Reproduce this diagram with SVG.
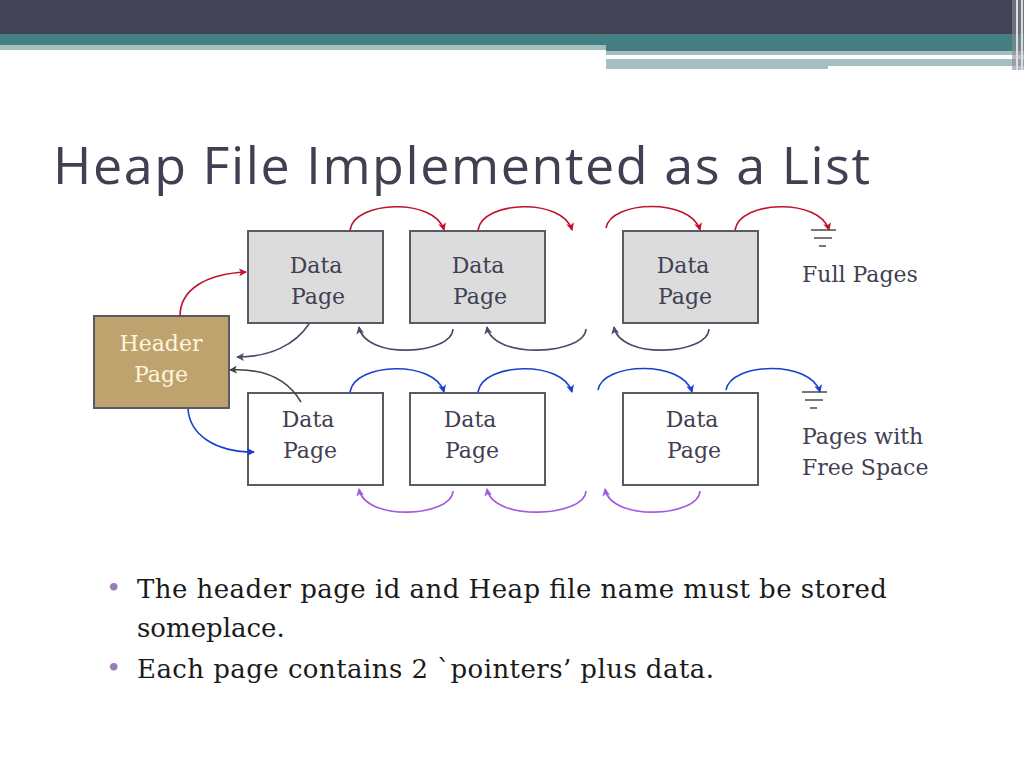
<svg xmlns="http://www.w3.org/2000/svg" width="1024" height="768" viewBox="0 0 1024 768">
<defs>
<style>
.box{stroke:#5a5a66;stroke-width:2}
.t{font-family:"DejaVu Serif","Liberation Serif",serif;font-size:22px;fill:#3f4152}
.c{fill:none;stroke-width:1.6}
.red{stroke:#c0122e}.dk{stroke:#4b4b6b}.bl{stroke:#1a3fd0}.pu{stroke:#a35be0}.gr{stroke:#444}
</style>
<marker id="mr" markerWidth="8" markerHeight="8" refX="7" refY="4" orient="auto" markerUnits="userSpaceOnUse"><path d="M0,0 L8,4 L0,8 L2,4z" fill="#c0122e"/></marker>
<marker id="md" markerWidth="8" markerHeight="8" refX="7" refY="4" orient="auto" markerUnits="userSpaceOnUse"><path d="M0,0 L8,4 L0,8 L2,4z" fill="#4b4b6b"/></marker>
<marker id="mb" markerWidth="8" markerHeight="8" refX="7" refY="4" orient="auto" markerUnits="userSpaceOnUse"><path d="M0,0 L8,4 L0,8 L2,4z" fill="#1a3fd0"/></marker>
<marker id="mp" markerWidth="8" markerHeight="8" refX="7" refY="4" orient="auto" markerUnits="userSpaceOnUse"><path d="M0,0 L8,4 L0,8 L2,4z" fill="#a35be0"/></marker>
<marker id="mg" markerWidth="8" markerHeight="8" refX="7" refY="4" orient="auto" markerUnits="userSpaceOnUse"><path d="M0,0 L8,4 L0,8 L2,4z" fill="#444"/></marker>
</defs>
<rect width="1024" height="768" fill="#fff"/>
<rect x="0" y="0" width="1024" height="34" fill="#424456"/>
<rect x="0" y="34" width="1024" height="11" fill="#437f82"/>
<rect x="0" y="45" width="620" height="5" fill="#a5bfc1"/>
<rect x="606" y="45" width="418" height="6" fill="#437f82"/>
<rect x="606" y="51" width="418" height="4" fill="#a5bfc1"/>
<rect x="606" y="59" width="420" height="10" fill="#a5bfc1"/>
<rect x="606" y="55" width="362" height="4" fill="#fff"/>
<rect x="828" y="66" width="196" height="4" fill="#fff"/>
<rect x="1012" y="0" width="12" height="70" fill="#8a8c98" opacity="0.6"/>
<rect x="1016" y="0" width="2" height="70" fill="#ddd"/>
<rect x="1021" y="0" width="2" height="70" fill="#ddd"/>
<text x="53" y="184" font-family="'Open Sans','Liberation Sans',sans-serif" font-size="52" fill="#3f4152" textLength="817">Heap File Implemented as a List</text>

<g id="header"><rect class="box" x="94" y="316" width="135" height="92" fill="#bfa36f"/>
<text class="t" x="161" y="351" text-anchor="middle" style="fill:#fdf6dc">Header</text>
<text class="t" x="161" y="382" text-anchor="middle" style="fill:#fdf6dc">Page</text></g>
<g id="f1"><rect class="box" x="248" y="231" width="135" height="92" fill="#dcdcdc"/><text class="t" x="316" y="273" text-anchor="middle">Data</text><text class="t" x="318" y="304" text-anchor="middle">Page</text></g>
<g id="f2"><rect class="box" x="410" y="231" width="135" height="92" fill="#dcdcdc"/><text class="t" x="478" y="273" text-anchor="middle">Data</text><text class="t" x="480" y="304" text-anchor="middle">Page</text></g>
<g id="f3"><rect class="box" x="623" y="231" width="135" height="92" fill="#dcdcdc"/><text class="t" x="683" y="273" text-anchor="middle">Data</text><text class="t" x="685" y="304" text-anchor="middle">Page</text></g>
<g id="p1"><rect class="box" x="248" y="393" width="135" height="92" fill="#fff"/><text class="t" x="308" y="427" text-anchor="middle">Data</text><text class="t" x="310" y="458" text-anchor="middle">Page</text></g>
<g id="p2"><rect class="box" x="410" y="393" width="135" height="92" fill="#fff"/><text class="t" x="470" y="427" text-anchor="middle">Data</text><text class="t" x="472" y="458" text-anchor="middle">Page</text></g>
<g id="p3"><rect class="box" x="623" y="393" width="135" height="92" fill="#fff"/><text class="t" x="692" y="427" text-anchor="middle">Data</text><text class="t" x="694" y="458" text-anchor="middle">Page</text></g>

<g id="connectors">
<path class="c red" d="M180,316 C180,290 205,274 246,272" marker-end="url(#mr)"/>
<path class="c dk" d="M309,324 C295,345 270,357 237,357" marker-end="url(#md)"/>
<path class="c gr" d="M301,402 C288,380 265,368 230,370" marker-end="url(#mg)"/>
<path class="c bl" d="M188,409 C190,435 215,452 254,452" marker-end="url(#mb)"/>
<path class="c red" d="M350,230 C355,200 435,198 444,230" marker-end="url(#mr)"/>
<path class="c red" d="M478,230 C483,200 563,198 572,230" marker-end="url(#mr)"/>
<path class="c red" d="M606,228 C611,200 691,198 700,230" marker-end="url(#mr)"/>
<path class="c red" d="M735,230 C740,200 820,198 829,230" marker-end="url(#mr)"/>
<path class="c dk" d="M453,329 C452,355 365,360 359,327" marker-end="url(#md)"/>
<path class="c dk" d="M586,329 C585,355 493,360 487,327" marker-end="url(#md)"/>
<path class="c dk" d="M709,329 C708,355 620,360 614,327" marker-end="url(#md)"/>
<path class="c bl" d="M350,392 C355,362 435,360 444,392" marker-end="url(#mb)"/>
<path class="c bl" d="M478,392 C483,362 563,360 572,392" marker-end="url(#mb)"/>
<path class="c bl" d="M598,390 C603,362 683,360 692,392" marker-end="url(#mb)"/>
<path class="c bl" d="M726,390 C731,362 811,360 820,392" marker-end="url(#mb)"/>
<path class="c pu" d="M453,491 C452,517 365,522 359,489" marker-end="url(#mp)"/>
<path class="c pu" d="M586,491 C585,517 493,522 487,489" marker-end="url(#mp)"/>
<path class="c pu" d="M700,491 C699,517 611,522 605,489" marker-end="url(#mp)"/>
<g stroke="#555" stroke-width="1.6">
<line x1="811" y1="230" x2="836" y2="230"/><line x1="814" y1="238" x2="832" y2="238"/><line x1="819" y1="246" x2="826" y2="246"/>
<line x1="802" y1="392" x2="827" y2="392"/><line x1="805" y1="400" x2="823" y2="400"/><line x1="810" y1="408" x2="817" y2="408"/>
</g>
</g>

<text class="t" x="802" y="282">Full Pages</text>
<text class="t" x="802" y="444">Pages with</text>
<text class="t" x="802" y="475">Free Space</text>

<g font-family="'DejaVu Serif','Liberation Serif',serif" font-size="26" fill="#1a1a1a">
<text x="106" y="597" fill="#9a7bc0" font-size="26">•</text>
<text x="137" y="598" textLength="750">The header page id and Heap file name must be stored</text>
<text x="137" y="637">someplace.</text>
<text x="106" y="677" fill="#9a7bc0" font-size="26">•</text>
<text x="137" y="678" textLength="577">Each page contains 2 `pointers’ plus data.</text>
</g>
</svg>
